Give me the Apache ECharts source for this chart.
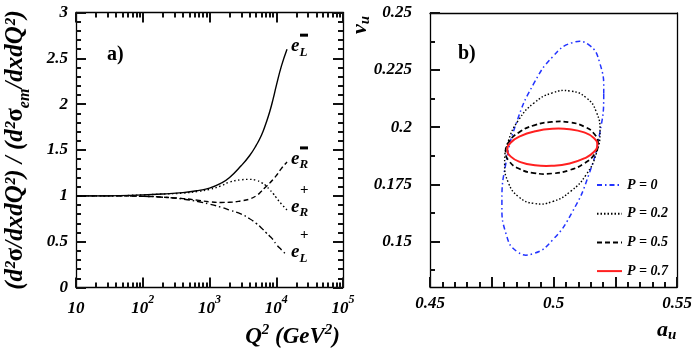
<!DOCTYPE html>
<html><head><meta charset="utf-8">
<script src="https://cdn.jsdelivr.net/npm/echarts@6/dist/echarts.min.js"></script>
<style>html,body{margin:0;padding:0;background:#fff}#c{width:695px;height:349px}</style>
</head><body><div id="c"></div>
<script>
// ---- panel a) data: ratio vs Q^2 ----
const q2 = [10, 30, 100, 200, 400, 700, 1000, 1500, 2000, 3000, 4000, 5000, 6000, 7000, 8000, 9000, 10000, 12000, 14500];
const ratioELminus = [1.0, 1.0, 1.01, 1.02, 1.035, 1.06, 1.085, 1.14, 1.2, 1.33, 1.44, 1.55, 1.66, 1.79, 1.92, 2.06, 2.2, 2.42, 2.6];
const ratioERminus = [1.0, 1.0, 0.995, 0.985, 0.97, 0.95, 0.935, 0.928, 0.93, 0.945, 0.965, 1.0, 1.05, 1.1, 1.14, 1.18, 1.22, 1.3, 1.37];
const ratioERplus  = [1.0, 1.0, 1.01, 1.02, 1.03, 1.05, 1.07, 1.11, 1.15, 1.175, 1.18, 1.17, 1.145, 1.11, 1.065, 1.025, 0.98, 0.91, 0.845];
const ratioELplus  = [1.0, 1.0, 0.995, 0.985, 0.965, 0.935, 0.91, 0.875, 0.845, 0.8, 0.75, 0.7, 0.65, 0.6, 0.56, 0.52, 0.47, 0.41, 0.35];
const xTickExp = {10: '', 100: '2', 1000: '3', 10000: '4', 100000: '5'};

// ---- panel b) data: contours in (a_u, v_u) ----
const p0A  = [.5203,.5187,.5143,.5076,.4997,.4918,.4851,.4807,.4791,.4807,.4851,.4918,.4997,.5076,.5143,.5187];
const p0V  = [.2146,.2281,.2360,.2370,.2309,.2187,.2023,.1842,.1670,.1535,.1456,.1446,.1507,.1629,.1793,.1974];
const p02A = [.5188,.5173,.5132,.5069,.4995,.4921,.4859,.4817,.4802,.4817,.4859,.4921,.4995,.5069,.5132,.5173];
const p02V = [.1981,.2067,.2129,.2158,.2150,.2106,.2032,.1939,.1843,.1757,.1695,.1666,.1674,.1719,.1792,.1885];
const p05A = [.5180,.5166,.5125,.5065,.4993,.4921,.4861,.4820,.4806,.4820,.4861,.4921,.4993,.5065,.5125,.5166];
const p05V = [.1927,.1969,.2002,.2021,.2023,.2008,.1978,.1937,.1893,.1851,.1818,.1799,.1797,.1812,.1842,.1882];
const p07A = [.5177,.5163,.5124,.5065,.4995,.4925,.4866,.4827,.4813,.4827,.4866,.4925,.4995,.5065,.5124,.5163];
const p07V = [.1923,.1953,.1977,.1991,.1993,.1982,.1961,.1933,.1901,.1871,.1847,.1833,.1831,.1841,.1863,.1891];
const xLabelsB = [0.45, 0.5, 0.55];
const yLabelsB = [0.15, 0.175, 0.2, 0.225, 0.25];
const yMinorB = [0.1375, 0.1625, 0.1875, 0.2125, 0.2375];
const legendNames = ['P = 0', 'P = 0.2', 'P = 0.5', 'P = 0.7'];

const FF = '"Liberation Serif","DejaVu Serif",serif';
const BI = {fontFamily: FF, fontStyle: 'italic', fontWeight: 'bold', color: '#000'};
function lc() { return {color: '#000', width: 1.3}; }
function tc() { return {color: '#111', width: 2}; }

const minorLog = [];
for (let d = 1; d <= 4; d++) for (let m = 2; m <= 9; m++) minorLog.push(Math.log10(m) + d);

function zip(a, b) { return a.map((v, i) => [v, b[i]]); }

function endLab(sub, sup) {
  const supTok = sup === '+' ? '{sp|+}' : '{bar| }';
  return {
    show: true, distance: 4, offset: [0, -7],
    formatter: '{g| }' + supTok + '\n{e|e}{sb|' + sub + '}',
    rich: {
      g: {width: 9, fontSize: 10, lineHeight: 11},
      sp: {fontFamily: FF, fontWeight: 'bold', fontSize: 15, lineHeight: 11, verticalAlign: 'bottom', color: '#000'},
      bar: {width: 8, height: 3, lineHeight: 3, fontSize: 2, backgroundColor: '#000', verticalAlign: 'bottom'},
      e: Object.assign({fontSize: 19, lineHeight: 22, verticalAlign: 'top'}, BI),
      sb: Object.assign({fontSize: 13, lineHeight: 13, verticalAlign: 'bottom'}, BI)
    }
  };
}

function lineA(name, arr, type, sub, sup) {
  return {
    name, type: 'line', xAxisIndex: 0, yAxisIndex: 0, data: zip(q2, arr),
    smooth: true, symbol: 'none', showSymbol: false, silent: true,
    lineStyle: {color: '#000', width: 1.4, type},
    endLabel: endLab(sub, sup)
  };
}
function legendLine(name, color, width, type) {
  return {name, type: 'line', xAxisIndex: 4, yAxisIndex: 2, data: [], symbol: 'none',
    lineStyle: {color, width, type}, itemStyle: {color, opacity: 0}};
}
function ell(name, a, v, color, width, dash) {
  return {
    name, type: 'custom', coordinateSystem: 'cartesian2d', xAxisIndex: 4, yAxisIndex: 2,
    data: zip(a, v), silent: true, itemStyle: {color},
    renderItem: (params, api) => {
      if (params.dataIndex !== 0) return null;
      const pts = a.map((x, i) => api.coord([x, v[i]]));
      return {type: 'polygon', shape: {points: pts, smooth: 0.5},
        style: {fill: null, stroke: color, lineWidth: width, lineDash: dash}};
    }
  };
}

const chart = echarts.init(document.getElementById('c'), null, {renderer: 'canvas'});
chart.setOption({
  animation: false,
  backgroundColor: '#fff',
  grid: [
    {left: 76, top: 12.5, width: 267, height: 275},
    {left: 430, top: 13, width: 250, height: 274}
  ],
  xAxis: [
    {type: 'log', logBase: 10, gridIndex: 0, min: 10, max: 100000, position: 'bottom',
     axisLine: {show: true, lineStyle: lc()}, axisTick: {show: true, inside: true, length: 10, lineStyle: tc()},
     splitLine: {show: false},
     axisLabel: {margin: 6, formatter: v => { const e = xTickExp[Math.round(v)]; return e ? '{b|10}{s|' + e + '}' : '{b|10}'; },
       rich: {b: Object.assign({fontSize: 17, lineHeight: 24, verticalAlign: 'bottom'}, BI),
              s: Object.assign({fontSize: 12, lineHeight: 24, verticalAlign: 'top'}, BI)}}},
    {type: 'value', gridIndex: 0, min: 1, max: 5, position: 'bottom',
     axisLine: {show: false}, axisLabel: {show: false}, splitLine: {show: false},
     axisTick: {show: true, inside: true, length: 5, lineStyle: tc(), customValues: minorLog}},
    {type: 'log', logBase: 10, gridIndex: 0, min: 10, max: 100000, position: 'top',
     axisLine: {show: true, lineStyle: lc()}, axisTick: {show: true, inside: true, length: 10, lineStyle: tc()},
     axisLabel: {show: false}, splitLine: {show: false}},
    {type: 'value', gridIndex: 0, min: 1, max: 5, position: 'top',
     axisLine: {show: false}, axisLabel: {show: false}, splitLine: {show: false},
     axisTick: {show: true, inside: true, length: 5, lineStyle: tc(), customValues: minorLog}},
    {type: 'value', gridIndex: 1, min: 0.45, max: 0.55, interval: 0.025, position: 'bottom',
     axisLine: {show: true, lineStyle: lc()}, axisTick: {show: true, inside: true, length: 10, lineStyle: tc()},
     minorTick: {show: true, splitNumber: 5, length: 5, lineStyle: tc()},
     splitLine: {show: false}, minorSplitLine: {show: false},
     axisLabel: Object.assign({fontSize: 17, margin: 8, customValues: xLabelsB}, BI)},
    {type: 'value', gridIndex: 1, min: 0.45, max: 0.55, position: 'top',
     axisLine: {show: true, lineStyle: lc()}, axisTick: {show: false}, axisLabel: {show: false}, splitLine: {show: false}}
  ],
  yAxis: [
    {type: 'value', gridIndex: 0, min: 0, max: 3, interval: 0.5, position: 'left',
     axisLine: {show: true, lineStyle: lc()}, axisTick: {show: true, inside: true, length: 10, lineStyle: tc()},
     minorTick: {show: true, splitNumber: 5, length: 5, lineStyle: tc()},
     splitLine: {show: false}, minorSplitLine: {show: false},
     axisLabel: Object.assign({fontSize: 17, margin: 8}, BI)},
    {type: 'value', gridIndex: 0, min: 0, max: 3, interval: 0.5, position: 'right',
     axisLine: {show: true, lineStyle: lc()}, axisTick: {show: true, inside: true, length: 10, lineStyle: tc()},
     minorTick: {show: true, splitNumber: 5, length: 5, lineStyle: tc()},
     splitLine: {show: false}, minorSplitLine: {show: false}, axisLabel: {show: false}},
    {type: 'value', gridIndex: 1, min: 0.13, max: 0.25, position: 'left',
     axisLine: {show: true, lineStyle: lc()},
     axisTick: {show: true, inside: true, length: 10, lineStyle: tc(), customValues: yLabelsB},
     splitLine: {show: false},
     axisLabel: Object.assign({fontSize: 17, margin: 18, customValues: yLabelsB}, BI)},
    {type: 'value', gridIndex: 1, min: 0.13, max: 0.25, position: 'left',
     axisLine: {show: false}, axisLabel: {show: false}, splitLine: {show: false},
     axisTick: {show: true, inside: true, length: 5, lineStyle: tc(), customValues: yMinorB}},
    {type: 'value', gridIndex: 1, min: 0.13, max: 0.25, position: 'right',
     axisLine: {show: true, lineStyle: lc()}, axisTick: {show: false}, axisLabel: {show: false}, splitLine: {show: false}}
  ],
  legend: {
    orient: 'vertical', left: 591, top: 173, itemWidth: 25, itemHeight: 14, itemGap: 14.7,
    data: legendNames, selectedMode: false,
    textStyle: Object.assign({fontSize: 14}, BI)
  },
  series: [
    lineA('eLminus', ratioELminus, 'solid', 'L', '−'),
    lineA('eRminus', ratioERminus, [5, 3], 'R', '−'),
    lineA('eRplus', ratioERplus, [1.5, 2.5], 'R', '+'),
    lineA('eLplus', ratioELplus, [6, 3, 1.5, 3], 'L', '+'),
    legendLine(legendNames[0], '#2233ff', 1.5, [5, 3, 1.5, 3]),
    legendLine(legendNames[1], '#000', 1.4, [1.5, 2]),
    legendLine(legendNames[2], '#000', 1.7, [5, 3]),
    legendLine(legendNames[3], '#ff2020', 2, 'solid'),
    ell(legendNames[0], p0A, p0V, '#2233ff', 1.5, [5, 3, 1.5, 3]),
    ell(legendNames[1], p02A, p02V, '#000', 1.4, [1.5, 2]),
    ell(legendNames[2], p05A, p05V, '#000', 1.7, [5, 3]),
    ell(legendNames[3], p07A, p07V, '#ff2020', 2, null)
  ],
  graphic: [
    {type: 'text', left: 107, top: 45, style: {text: 'a)', font: 'bold 20px ' + FF, fill: '#000'}},
    {type: 'text', left: 458, top: 44, style: {text: 'b)', font: 'bold 20px ' + FF, fill: '#000'}},
    {type: 'text', x: 18, y: 150, rotation: Math.PI / 2,
     style: {text: '{m|(d²}{g|σ}{m|/dxdQ²) / (d²}{g|σ}{s|em}{m|/dxdQ²)}', align: 'center', verticalAlign: 'middle',
       rich: {m: Object.assign({fontSize: 25, lineHeight: 29, verticalAlign: 'top'}, BI),
              g: {fontFamily: FF, fontWeight: 'bold', fontSize: 25, lineHeight: 29, verticalAlign: 'top', fill: '#000'},
              s: Object.assign({fontSize: 16, lineHeight: 18, verticalAlign: 'bottom'}, BI)}}},
    {type: 'text', x: 340, y: 336,
     style: {text: '{m|Q}{p|2}{m| (GeV}{p|2}{m|)}', align: 'right', verticalAlign: 'middle',
       rich: {m: Object.assign({fontSize: 23, lineHeight: 26, verticalAlign: 'bottom'}, BI),
              p: Object.assign({fontSize: 15, lineHeight: 26, verticalAlign: 'top'}, BI)}}},
    {type: 'text', x: 657, y: 331,
     style: {text: '{m|a}{s|u}', align: 'left', verticalAlign: 'middle',
       rich: {m: Object.assign({fontSize: 22, lineHeight: 24, verticalAlign: 'top'}, BI),
              s: Object.assign({fontSize: 15, lineHeight: 15, verticalAlign: 'bottom'}, BI)}}},
    {type: 'text', x: 361, y: 25, rotation: Math.PI / 2,
     style: {text: '{m|v}{s|u}', align: 'center', verticalAlign: 'middle',
       rich: {m: Object.assign({fontSize: 22, lineHeight: 24, verticalAlign: 'top'}, BI),
              s: Object.assign({fontSize: 15, lineHeight: 15, verticalAlign: 'bottom'}, BI)}}}
  ]
});
</script></body></html>
